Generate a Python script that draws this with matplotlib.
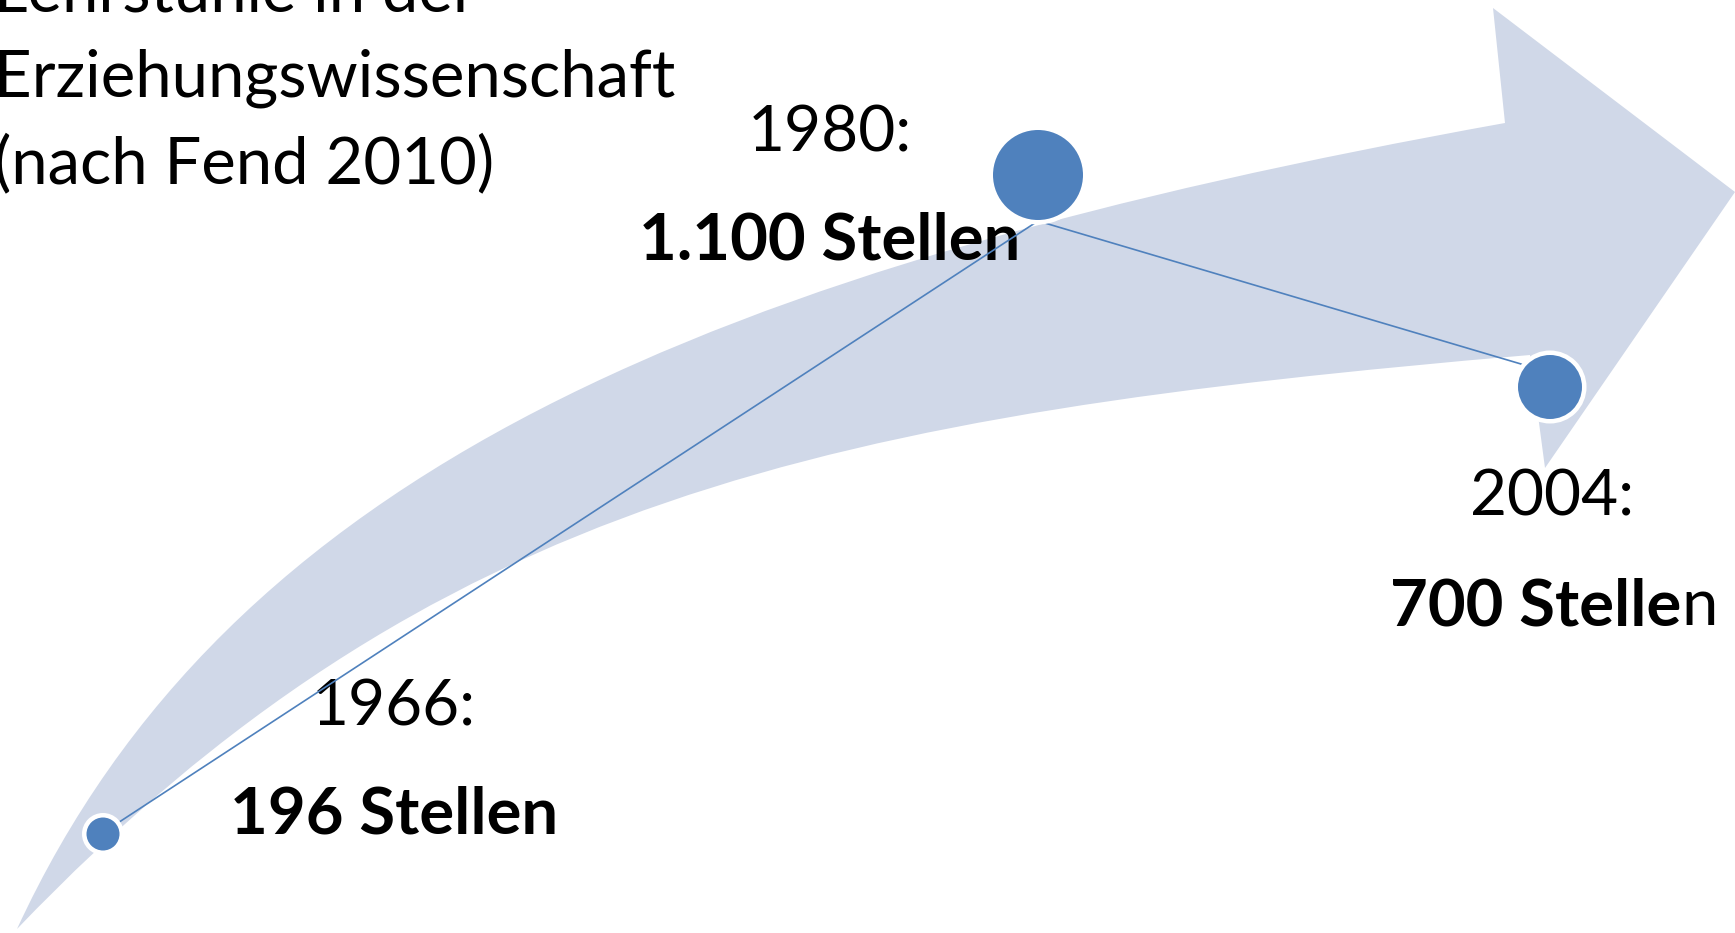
#!/usr/bin/env python

# Number of chairs in educational science, drawn as a curved arrow
# with one bubble per year.

import matplotlib
matplotlib.use("Agg")
import matplotlib.pyplot as plt
from matplotlib.path import Path
from matplotlib.patches import PathPatch

years = ["1966", "1980", "2004"]
stellen = ["196", "1.100", "700"]

# canvas is 1735 x 933 px, y grows downwards
line_x = [104, 1038, 1548]
line_y = [832, 221, 372]
bubble_x = [103, 1038, 1550]
bubble_y = [834, 175, 387]
label_x = [394, 830, 1552]
year_y = [725, 151, 515]
count_y = [833, 260, 625]

title_lines = ["Lehrstühle in der", "Erziehungswissenschaft", "(nach Fend 2010)"]

# styles
bubble_r = [16.5, 45, 32]  # fill radius, px
ring_px = 4.5
blue = "#4F81BD"
arrow_col = "#D0D8E8"
W, H, DPI = 1735, 933, 100

plt.rcParams["font.family"] = ["Lato", "DejaVu Sans"]

fig = plt.figure(figsize=(W / DPI, H / DPI), dpi=DPI, facecolor="white")
ax = fig.add_axes([0, 0, 1, 1])
ax.set_xlim(0, W)
ax.set_ylim(H, 0)
ax.set_axis_off()

# the big curved arrow
verts = [
    (17, 929), (227, 474), (705, 267), (1505, 123),
    (1493, 8), (1735, 192), (1545, 468), (1530, 355),
    (830, 415), (431, 497), (17, 929),
]
codes = [
    Path.MOVETO, Path.CURVE4, Path.CURVE4, Path.CURVE4,
    Path.LINETO, Path.LINETO, Path.LINETO, Path.LINETO,
    Path.CURVE4, Path.CURVE4, Path.CURVE4,
]
ax.add_patch(PathPatch(Path(verts, codes), facecolor=arrow_col,
                       edgecolor="none", zorder=1))

# title, partly cut off at the top (as in the original slide)
for i, line in enumerate(title_lines):
    ax.text(-6, 11 + 86 * i, line, fontsize=47, ha="left", va="baseline",
            color="black", zorder=2)

# labels
for i in range(len(years)):
    ax.text(label_x[i], year_y[i], years[i] + ":", fontsize=46,
            ha="center", va="baseline", zorder=2)
    if i < len(years) - 1:
        ax.text(label_x[i], count_y[i], stellen[i] + " Stellen", fontsize=47,
                fontweight="bold", ha="center", va="baseline", zorder=2)
    else:
        t = ax.text(1390, count_y[i], stellen[i] + " Stelle", fontsize=47,
                    fontweight="bold", ha="left", va="baseline", zorder=2)
        ax.annotate("n", xy=(1, 0), xycoords=t, fontsize=47,
                    ha="left", va="bottom", zorder=2)

# connecting line and bubbles
ax.plot(line_x, line_y, color=blue, linewidth=1.2, zorder=3)
pt = 72 / DPI
sizes = [(2 * (r + ring_px / 2) * pt) ** 2 for r in bubble_r]
ax.scatter(bubble_x, bubble_y, s=sizes, color=blue, edgecolors="white",
           linewidths=ring_px * pt, zorder=4)

fig.savefig("out.png", dpi=DPI, facecolor="white")
